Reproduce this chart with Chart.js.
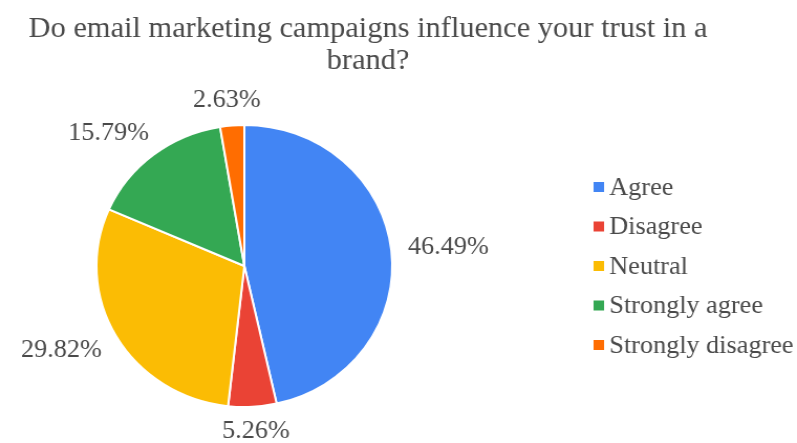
<!DOCTYPE html>
<html>
<head>
<meta charset="utf-8">
<title>Email marketing and brand trust</title>
<script src="https://cdn.jsdelivr.net/npm/chart.js@4.4.0/dist/chart.umd.min.js"></script>
<style>
    html, body { margin: 0; padding: 0; background: #ffffff; }
    #chartDiv { width: 797px; height: 443px; overflow: hidden; }
</style>
</head>
<body>
<div id="chartDiv"><canvas id="pie-chart" width="760" height="443"></canvas></div>
<script>
var titleLines = ["Do email marketing campaigns influence your trust in a", "brand?"];
var answers = ["Agree", "Disagree", "Neutral", "Strongly agree", "Strongly disagree"];
var shares = [46.49, 5.26, 29.82, 15.79, 2.63];
var sliceColors = ["#4285f4", "#ea4335", "#fbbc04", "#34a853", "#ff6d01"];

var textColor = "#4a4a4a";
var serif = "'Liberation Serif', 'Times New Roman', serif";

function clamp(v) {
    return Math.max(-1, Math.min(1, v));
}

// title, percentage labels outside the slices, and the legend on the right
var decorations = {
    id: 'decorations',
    afterDraw: function (chart) {
        var ctx = chart.ctx;
        ctx.save();
        ctx.fillStyle = textColor;
        ctx.textBaseline = 'middle';

        // title
        ctx.font = "29px " + serif;
        ctx.textAlign = 'center';
        ctx.fillText(titleLines[0], 351, 29);
        ctx.fillText(titleLines[1], 351, 61);

        // percentage labels
        ctx.font = "25px " + serif;
        var meta = chart.getDatasetMeta(0);
        meta.data.forEach(function (arc, i) {
            var p = arc.getProps(['x', 'y', 'startAngle', 'endAngle', 'outerRadius'], true);
            var mid = (p.startAngle + p.endAngle) / 2;
            var dx = Math.cos(mid), dy = Math.sin(mid);
            var r = p.outerRadius + 16;
            var text = shares[i].toFixed(2) + "%";
            var w = ctx.measureText(text).width;
            var h = 18;
            var tx = p.x + r * dx + w / 2 * clamp(1.4 * dx);
            var ty = p.y + r * dy + h / 2 * clamp(1.4 * dy);
            ctx.fillText(text, tx, ty);
        });

        // legend
        ctx.textAlign = 'left';
        answers.forEach(function (name, i) {
            var y = 187 + i * 39.5;
            ctx.fillStyle = sliceColors[i];
            ctx.fillRect(566, y - 5, 10, 10);
            ctx.fillStyle = textColor;
            ctx.fillText(name, 581, y + 1);
        });
        ctx.restore();
    }
};

var ctx = document.getElementById('pie-chart').getContext('2d');
var chart = new Chart(ctx, {
    type: 'pie',
    data: {
        labels: answers,
        datasets: [{
            data: shares,
            backgroundColor: sliceColors,
            borderColor: "#ffffff",
            borderWidth: 2
        }]
    },
    options: {
        responsive: false,
        animation: false,
        layout: {
            padding: { left: 91, right: 385, top: 123, bottom: 34 }
        },
        plugins: {
            legend: { display: false },
            title: { display: false },
            tooltip: { enabled: false }
        }
    },
    plugins: [decorations]
});

// the chart is drawn a little narrower and widened to the page width
chart.canvas.style.width = "797px";
chart.canvas.style.height = "443px";
</script>
</body>
</html>
